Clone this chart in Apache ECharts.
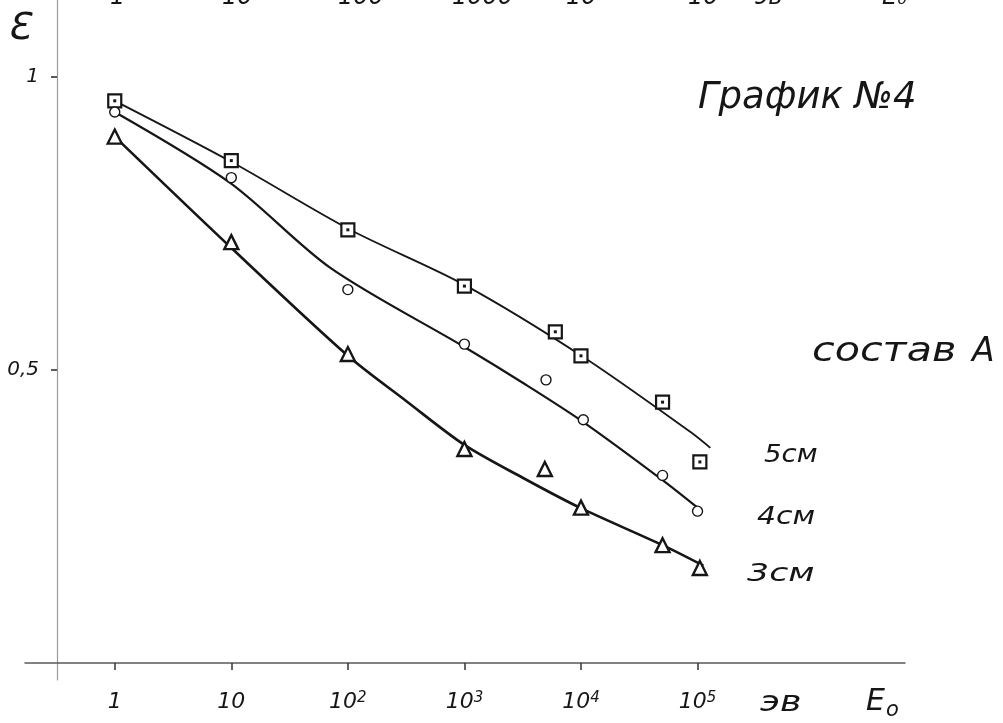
<!DOCTYPE html>
<html>
<head>
<meta charset="utf-8">
<script src="https://cdn.jsdelivr.net/npm/echarts@6/dist/echarts.min.js"></script>
<style>html,body{margin:0;padding:0;background:#fff}#c{width:1003px;height:723px}</style>
</head>
<body>
<div id="c"></div>
<script>
// x values are log10(E0, эв)
const xTickValues = [0, 1, 2, 3, 4, 5];
const xTickLabels = ['1', '10', '10{s|2}', '10{s|3}', '10{s|4}', '10{s|5}'];
const yTickValues = [0.5, 1];
const yTickLabels = ['0,5', '1'];
const topCutLabels = ['1', '10', '100', '1000', '10', '10', 'эв', 'E₀'];

// measured points
const markerX5 = [0, 1, 2, 3, 3.78, 4, 4.7, 5.02];
const eps5 = [0.959, 0.857, 0.739, 0.643, 0.565, 0.524, 0.445, 0.343];
const markerX4 = [0, 1, 2, 3, 3.7, 4.02, 4.7, 5.0];
const eps4 = [0.940, 0.828, 0.637, 0.544, 0.483, 0.415, 0.320, 0.259];
const markerX3 = [0, 1, 2, 3, 3.69, 4.0, 4.7, 5.02];
const eps3 = [0.898, 0.718, 0.527, 0.365, 0.331, 0.265, 0.201, 0.162];

// hand-drawn curves
const curveX5 = [0, 1, 2.02, 3, 4.02, 4.94, 5.11];
const curve5 = [0.959, 0.855, 0.739, 0.645, 0.522, 0.394, 0.367];
const curveX4 = [0, 0.99, 1.85, 3, 3.5, 4.02, 4.7, 5.0];
const curve4 = [0.940, 0.819, 0.674, 0.539, 0.478, 0.411, 0.312, 0.265];
const curveX3 = [0, 0.99, 2, 2.5, 3, 3.5, 3.99, 4.7, 5.05];
const curve3 = [0.898, 0.710, 0.524, 0.447, 0.372, 0.316, 0.265, 0.201, 0.166];

const seriesNames = ['5см', '4см', '3см'];

const zip = (xs, ys) => xs.map((x, i) => [x, ys[i]]);
const ink = '#161616';
const font = 'DejaVu Sans';

const chart = echarts.init(document.getElementById('c'));

const curveSeries = (xs, ys, w) => ({
  type: 'line', data: zip(xs, ys), smooth: 0.3, symbol: 'none', silent: true,
  lineStyle: { color: ink, width: w }, z: 2
});
const markSeries = (xs, ys, sym, size, bw) => ({
  type: 'scatter', data: zip(xs, ys), symbol: sym, symbolSize: size,
  itemStyle: { color: '#fff', borderColor: ink, borderWidth: bw, opacity: 1 }, z: 3
});

const txt = (x, y, t, size, sx) => ({
  type: 'text', x: x, y: y, scaleX: sx || 1,
  style: { text: t, font: 'italic ' + size + 'px ' + font, fill: ink, verticalAlign: 'middle', align: 'left' }
});

const graphics = [];
const topX = [110, 222, 338, 452, 566, 688, 755, 882];
topCutLabels.forEach((t, i) => graphics.push(txt(topX[i], -2, t, 24)));
graphics.push(
  txt(7, 29, 'Ɛ', 38),
  txt(698, 98, 'График №4', 37),
  txt(812, 352, 'состав', 33, 1.25),
  txt(972, 352, 'А', 33),
  txt(764, 456, seriesNames[0], 24, 1.15),
  txt(757, 518, seriesNames[1], 24, 1.25),
  txt(747, 575, seriesNames[2], 24, 1.45),
  txt(760, 704, 'эв', 28, 1.3),
  txt(866, 702, 'E', 30),
  txt(886, 711, 'o', 21)
);

chart.setOption({
  animation: false,
  backgroundColor: '#fff',
  grid: { left: 25, right: 98, top: 0, bottom: 43, outerBoundsMode: 'none', containLabel: false },
  xAxis: {
    type: 'value', min: -0.77, max: 6.78,
    axisLine: { onZero: true, lineStyle: { color: '#5a5a5a', width: 1.5 } },
    axisTick: { show: true, customValues: xTickValues, length: 7, lineStyle: { color: '#333', width: 1.5 } },
    axisLabel: {
      customValues: xTickValues, margin: 11,
      formatter: v => xTickLabels[xTickValues.indexOf(Math.round(v))],
      fontFamily: font, fontStyle: 'italic', fontSize: 22, color: ink,
      rich: { s: { fontFamily: font, fontStyle: 'italic', fontSize: 15, color: ink, verticalAlign: 'top', padding: [0, 0, 8, 0] } }
    },
    splitLine: { show: false }
  },
  yAxis: {
    type: 'value', min: -0.029, max: 1.131, offset: -32,
    axisLine: { show: true, onZero: false, lineStyle: { color: '#999', width: 1.2 } },
    axisTick: { show: true, customValues: yTickValues, length: 6, lineStyle: { color: '#333', width: 1.6 } },
    axisLabel: {
      customValues: yTickValues, margin: 18,
      formatter: v => yTickLabels[yTickValues.indexOf(v)],
      fontFamily: font, fontStyle: 'italic', fontSize: 20, color: ink
    },
    splitLine: { show: false }
  },
  graphic: graphics,
  series: [
    curveSeries(curveX5, curve5, 1.8),
    curveSeries(curveX4, curve4, 2.2),
    curveSeries(curveX3, curve3, 2.6),
    markSeries(markerX5, eps5, 'rect', 13, 2.2),
    markSeries(markerX4, eps4, 'circle', 10, 1.4),
    markSeries(markerX3, eps3, 'triangle', 14, 2.4),
    { type: 'scatter', data: zip(markerX5, eps5), symbol: 'rect', symbolSize: 3, itemStyle: { color: ink, opacity: 1 }, z: 4 }
  ]
});
</script>
</body>
</html>
